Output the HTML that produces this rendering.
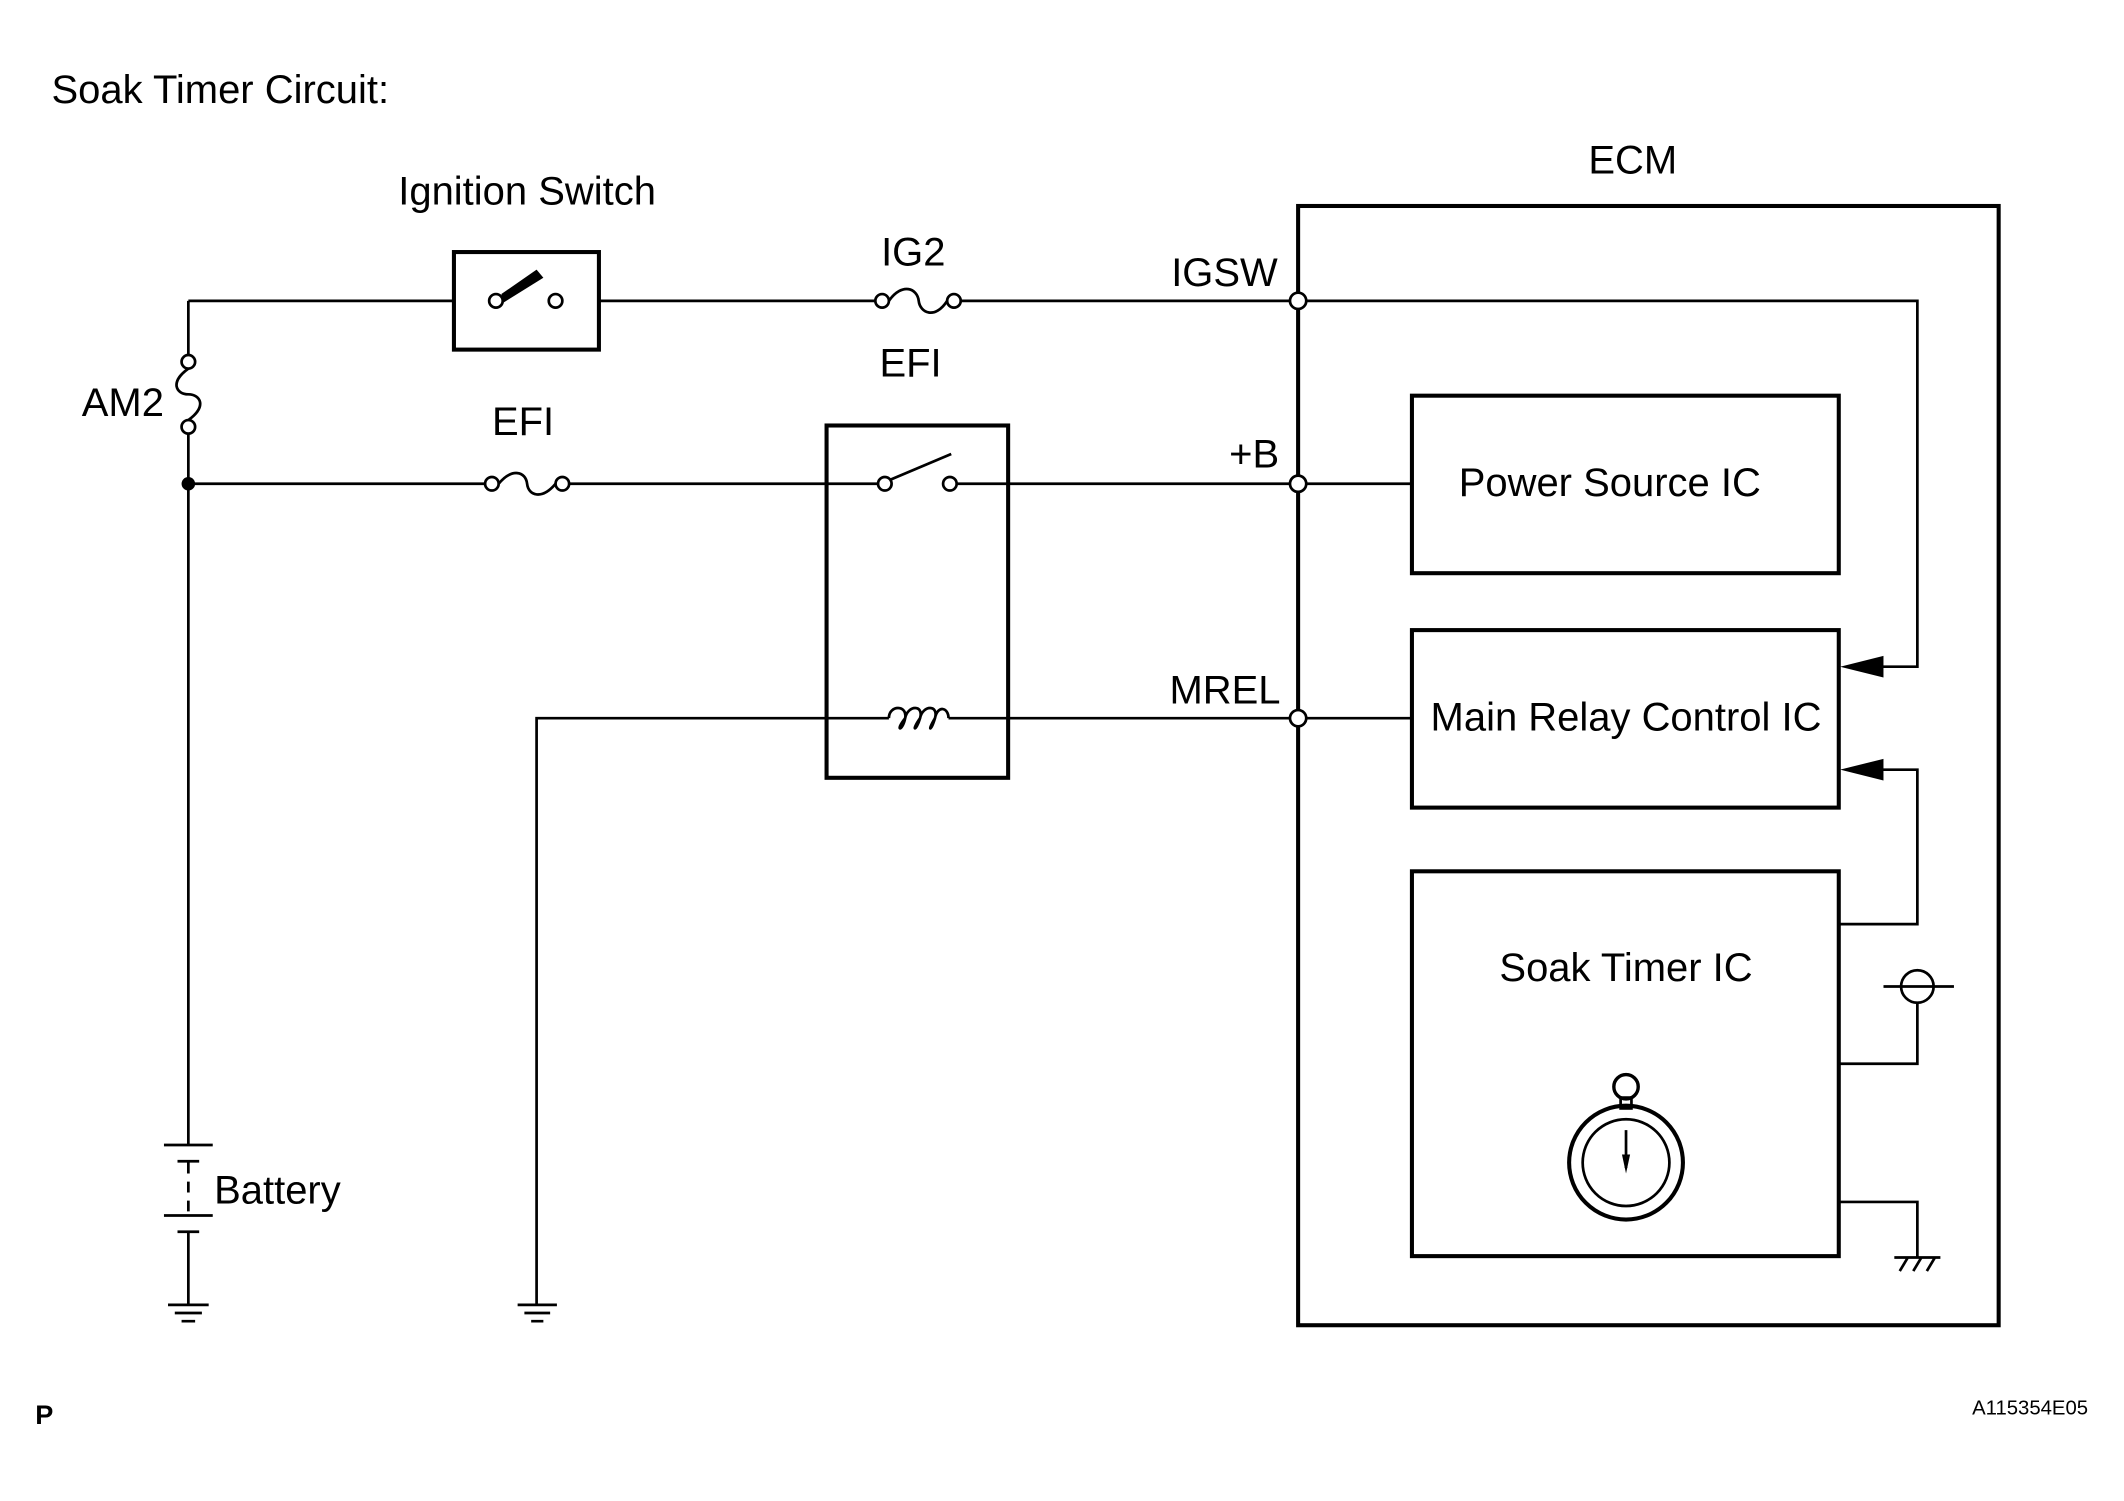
<!DOCTYPE html>
<html><head><meta charset="utf-8"><style>html,body{margin:0;padding:0;background:#fff}svg{display:block}</style></head>
<body>
<svg width="2124" height="1501" viewBox="0 0 1567.5 1107.7" xmlns="http://www.w3.org/2000/svg" font-family="Liberation Sans, sans-serif" fill="none" stroke="#000" stroke-width="2">
<g fill="#000" stroke="none" font-size="29.5">
<text x="38" y="76">Soak Timer Circuit:</text>
<text x="389" y="151" text-anchor="middle">Ignition Switch</text>
<text x="674" y="196" text-anchor="middle">IG2</text>
<text x="672" y="278" text-anchor="middle">EFI</text>
<text x="386" y="321" text-anchor="middle">EFI</text>
<text x="121" y="307" text-anchor="end">AM2</text>
<text x="943" y="211" text-anchor="end">IGSW</text>
<text x="944" y="345" text-anchor="end">+B</text>
<text x="945" y="519" text-anchor="end">MREL</text>
<text x="1205" y="128" text-anchor="middle">ECM</text>
<text x="1188" y="366" text-anchor="middle">Power Source IC</text>
<text x="1200" y="539" text-anchor="middle">Main Relay Control IC</text>
<text x="1200" y="724" text-anchor="middle">Soak Timer IC</text>
<text x="158" y="888">Battery</text>
<text x="26" y="1051" font-weight="bold" font-size="20">P</text>
<text x="1541" y="1044" text-anchor="end" font-size="15">A115354E05</text>
</g>
<rect x="958" y="152" width="517" height="826" stroke-width="3"/>
<rect x="1042" y="292" width="315" height="131" stroke-width="3"/>
<rect x="1042" y="465" width="315" height="131" stroke-width="3"/>
<rect x="1042" y="643" width="315" height="284" stroke-width="3"/>
<path d="M139 222H335M442 222H651M704 222H958M958 222H1415V492H1370"/>
<polygon points="1358,492 1390,484 1390,500" fill="#000" stroke="none"/>
<path d="M1357 682H1415V568H1370"/>
<polygon points="1358,568 1390,560 1390,576" fill="#000" stroke="none"/>
<rect x="335" y="186" width="107" height="72" stroke-width="3"/>
<circle cx="366" cy="222" r="5" fill="#fff"/>
<circle cx="410" cy="222" r="5" fill="#fff"/>
<polygon points="370,217 396,199 401,205 372,223" fill="#000" stroke="none"/>
<circle cx="651" cy="222" r="5" fill="#fff"/>
<circle cx="704" cy="222" r="5" fill="#fff"/>
<path d="M656 222C666 208 677 213 678 222S690 236 699 222"/>
<path d="M139 222V262M139 320V845"/>
<circle cx="139" cy="267" r="5" fill="#fff"/>
<circle cx="139" cy="315" r="5" fill="#fff"/>
<path d="M139 272C125 282 130 291 139 291S153 300 139 310"/>
<circle cx="139" cy="357" r="5" fill="#000" stroke="none"/>
<path d="M139 357H358M420 357H653M701 357H1042"/>
<circle cx="363" cy="357" r="5" fill="#fff"/>
<circle cx="415" cy="357" r="5" fill="#fff"/>
<path d="M368 357C378 345 388 348 389 357S400 369 410 357"/>
<rect x="610" y="314" width="134" height="260" stroke-width="3"/>
<circle cx="653" cy="357" r="5" fill="#fff"/>
<circle cx="701" cy="357" r="5" fill="#fff"/>
<path d="M657 354L702 335"/>
<path d="M396 963V530H656M700 530H1042"/>
<path d="M656 530C656 520 670 520 668 530S660 540 668 530C670 520 682 520 679 530S672 540 679 530C681 520 693 520 690 530S684 540 690 530C692 520 700 522 700 530"/>
<circle cx="958" cy="222" r="6" fill="#fff"/>
<circle cx="958" cy="357" r="6" fill="#fff"/>
<circle cx="958" cy="530" r="6" fill="#fff"/>
<path d="M121 845H157M131 857H147M139 857V866M139 872V880M139 886V894M121 897H157M131 909H147M139 909V963"/>
<path d="M124 963H154M129 969H149M134 975H144"/>
<path d="M382 963H411M387 969H406M392 975H401"/>
<path d="M1357 785H1415V740"/>
<circle cx="1415" cy="728" r="12"/>
<path d="M1390 728H1442"/>
<path d="M1357 887H1415V928M1398 928H1432M1402 938L1408 928M1412 938L1418 928M1422 938L1428 928"/>
<circle cx="1200" cy="858" r="42" stroke-width="3"/>
<circle cx="1200" cy="858" r="32"/>
<rect x="1196" y="810" width="8" height="8"/>
<circle cx="1200" cy="802" r="9" stroke-width="2.5"/>
<path d="M1200 834V862"/>
<polygon points="1197,852 1203,852 1200,866" fill="#000" stroke="none"/>
</svg>
</body></html>
